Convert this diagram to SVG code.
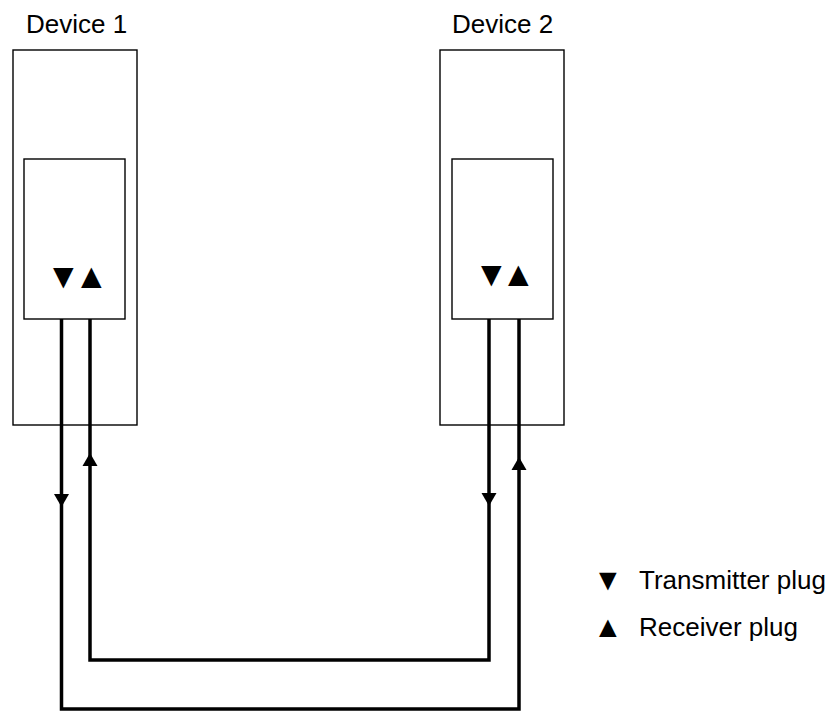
<svg xmlns="http://www.w3.org/2000/svg" xmlns:xlink="http://www.w3.org/1999/xlink" width="835" height="711" viewBox="0 0 835 711">
  <style>
    .box { fill: none; stroke: #000; stroke-width: 1.4; }
    .wire { fill: none; stroke: #000; stroke-width: 3.5; stroke-linejoin: miter; }
    .lbl { font-family: "Liberation Sans", Arial, sans-serif; font-size: 26px; fill: #000; }
    .sym { font-family: "Liberation Sans", "DejaVu Sans", sans-serif; font-size: 35px; fill: #000; }
    .lsym { font-family: "Liberation Sans", "DejaVu Sans", sans-serif; font-size: 30px; fill: #000; }
  </style>
  <defs>
    <path id="ah" d="M-7.5,-13 L7.5,-13 L0,0 Z" fill="#000"/>
  </defs>
  <rect width="835" height="711" fill="#fff"/>

  <g id="device1">
    <rect class="box" x="13" y="50" width="124" height="375"/>
    <rect class="box" x="24" y="159" width="101" height="160"/>
    <text class="lbl" x="26" y="33">Device 1</text>
    <text class="sym" x="46 74" y="287.5">▼▲</text>
  </g>

  <g id="device2">
    <rect class="box" x="440" y="50" width="124" height="375"/>
    <rect class="box" x="452" y="159" width="101" height="160"/>
    <text class="lbl" x="452" y="33">Device 2</text>
    <text class="sym" x="474 501" y="285.5">▼▲</text>
  </g>

  <g id="connectors">
    <path class="wire" d="M61.5,319 V709 H519 V319"/>
    <path class="wire" d="M489,319 V660 H90 V319"/>
    <use xlink:href="#ah" transform="translate(61.5,507)"/>
    <use xlink:href="#ah" transform="translate(90,453) rotate(180)"/>
    <use xlink:href="#ah" transform="translate(489,506)"/>
    <use xlink:href="#ah" transform="translate(519,457) rotate(180)"/>
  </g>

  <g id="legend">
    <text class="lsym" x="593" y="590">▼</text>
    <text class="lbl" x="639" y="589">Transmitter plug</text>
    <text class="lsym" x="593" y="637">▲</text>
    <text class="lbl" x="639" y="636">Receiver plug</text>
  </g>
</svg>
